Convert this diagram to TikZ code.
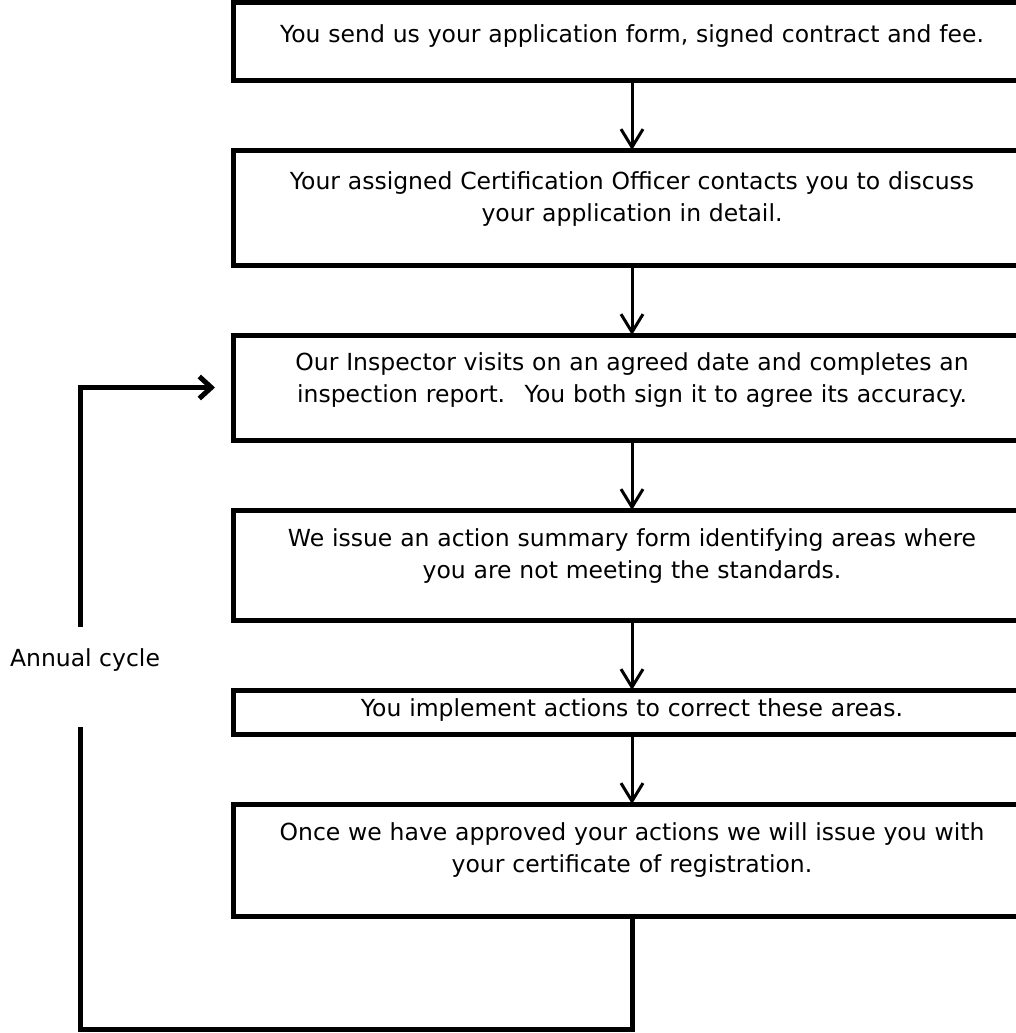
\documentclass[tikz,border=0pt]{standalone}
\usepackage{fontspec}
\setmainfont{DejaVu Sans}
\usetikzlibrary{positioning,arrows.meta}
\begin{document}
\begin{tikzpicture}[x=1pt,y=-1pt,node distance=70pt,
  stepbox/.style={draw,line width=5pt,outer sep=0pt,inner sep=0pt,minimum width=798pt,text width=798pt,align=center,font=\fontsize{23.5}{32}\selectfont},
  flowarrow/.style={line width=3pt,-{Straight Barb[length=18pt,width=22pt]}},
  cycleline/.style={line width=5pt}]
\clip (0,0) rectangle (1016,1033);
\node[stepbox,anchor=north west,text height=40pt,text depth=37.5pt] (send) at (233,2.5) {You send us your application form, signed contract and fee.};
\node[stepbox,below=of send,text height=39pt,text depth=76pt] (officer) {Your assigned Certification Officer contacts you to discuss\\your application in detail.};
\node[stepbox,below=of officer,text height=35pt,text depth=70pt] (inspector) {Our Inspector visits on an agreed date and completes an\\inspection report.~ You both sign it to agree its accuracy.};
\node[stepbox,below=of inspector,text height=36pt,text depth=74pt] (summary) {We issue an action summary form identifying areas where\\you are not meeting the standards.};
\node[stepbox,below=of summary,text height=26pt,text depth=18pt] (implement) {You implement actions to correct these areas.};
\node[stepbox,below=of implement,text height=36pt,text depth=76pt] (certificate) {Once we have approved your actions we will issue you with\\your certificate of registration.};
\draw[flowarrow] (send) -- (officer);
\draw[flowarrow] (officer) -- (inspector);
\draw[flowarrow] (inspector) -- (summary);
\draw[flowarrow] (summary) -- (implement);
\draw[flowarrow] (implement) -- (certificate);
\node[font=\fontsize{23.5}{32}\selectfont] (cycle) at (85,660) {Annual cycle};
\coordinate (loopcorner) at (80,1029);
\coordinate (gaplow) at (80,727);
\coordinate (gaphigh) at (80,627);
\draw[cycleline] (certificate.south) |- (loopcorner) -- (gaplow);
\draw[cycleline,-{Straight Barb[length=12pt,width=22pt]}] (gaphigh) |- ([xshift=-18pt]inspector.west);
\end{tikzpicture}
\end{document}
